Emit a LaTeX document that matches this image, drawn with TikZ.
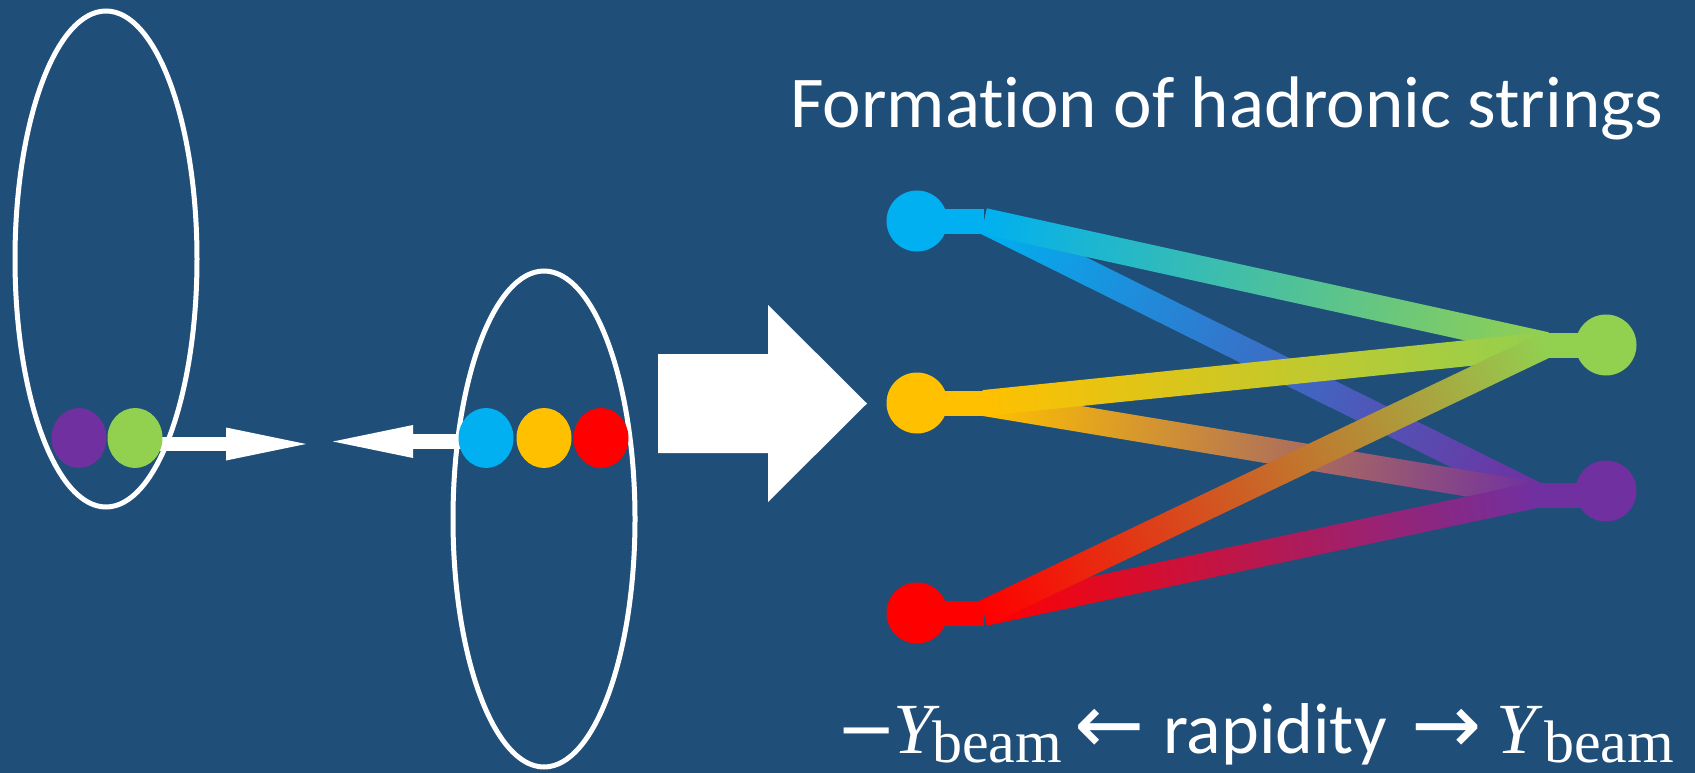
\documentclass[tikz,border=0pt]{standalone}
\usepackage{fontspec}
\setmainfont{Carlito}[Ligatures=NoCommon]
\newfontfamily\serifm{Liberation Serif}
\newfontfamily\arrowf{DejaVu Sans}
\usetikzlibrary{arrows.meta,shapes.geometric}
\definecolor{bgblue}{HTML}{1F4E79}
\definecolor{qblue}{HTML}{00B0F0}
\definecolor{qgreen}{HTML}{92D050}
\definecolor{qpurple}{HTML}{7030A0}
\definecolor{qorange}{HTML}{FFC000}
\definecolor{qred}{HTML}{FF0000}
\newdimen\qxa \newdimen\qya \newdimen\qxb \newdimen\qyb
\newcommand\qstring[4]{%
  \pgfextractx{\qxa}{\pgfpointanchor{#1}{center}}%
  \pgfextracty{\qya}{\pgfpointanchor{#1}{center}}%
  \pgfextractx{\qxb}{\pgfpointanchor{#2}{center}}%
  \pgfextracty{\qyb}{\pgfpointanchor{#2}{center}}%
  \pgfmathsetmacro\qang{atan2(\qyb-\qya,\qxb-\qxa)}%
  \pgfmathsetmacro\qlen{veclen(\qxb-\qxa,\qyb-\qya)}%
  \begin{scope}[transform canvas={shift={(#1)},rotate=\qang}]
    \shade[left color=#3,right color=#4] (0pt,-13pt) rectangle (\qlen pt,13pt);
  \end{scope}}
\begin{document}
\begin{tikzpicture}[x=1pt,y=-1pt,
  nucleus/.style={draw=white, line width=5pt, ellipse, minimum width=182pt, minimum height=496pt, inner sep=0pt},
  ldot/.style={ellipse, minimum width=55pt, minimum height=60pt, inner sep=0pt},
  qdot/.style={circle, minimum size=61pt, inner sep=0pt},
  stub/.style={line width=25pt},
  beamarrow/.style={draw=white, line width=14.5pt, -{Triangle[length=80pt,width=33pt,line width=0pt]}},
  lbl/.style={text=white, inner sep=0pt, anchor=base west},
]
\fill[bgblue] (0,0) rectangle (1695,773);
\useasboundingbox (0,0) rectangle (1695,773);

% nuclei
\node[nucleus] (nucA) at (106,259) {};
\node[nucleus] (nucB) at (544,519) {};

% beam arrows (under dots)
\coordinate (tipR) at (306,444);
\coordinate (tipL) at (333,441.5);
\node[ldot] (lg) at (135,438) {};
\node[ldot] (lb) at (486,438) {};
\draw[beamarrow] (lg.center |- tipR) -- (tipR);
\draw[beamarrow] (lb.center |- tipL) -- (tipL);

% dots on the nuclei
\node[ldot, fill=qpurple] (lp) at (79,438) {};
\node[ldot, fill=qgreen] at (lg) {};
\node[ldot, fill=qblue] at (lb) {};
\node[ldot, fill=qorange] (lo) at (544,438) {};
\node[ldot, fill=qred] (lr) at (601,438) {};

% big arrow
\fill[white] (658,354) -- (768,354) -- (768,305) -- (867,403.5) -- (768,502) -- (768,453) -- (658,453) -- cycle;

% string end points
\node[qdot] (bq) at (917,221) {};
\node[qdot] (oq) at (917,403) {};
\node[qdot] (rq) at (917,613) {};
\node[qdot] (gq) at (1606,345) {};
\node[qdot] (pq) at (1606,491) {};
\coordinate (bS) at (984,221);
\coordinate (oS) at (984,403);
\coordinate (rS) at (984,613);
\coordinate (gE) at (1546,345);
\coordinate (pE) at (1536,495);

% strings
\qstring{bS}{pE}{qblue}{qpurple}
\qstring{oS}{pE}{qorange}{qpurple}
\qstring{rS}{pE}{qred}{qpurple}
\qstring{bS}{gE}{qblue}{qgreen}
\qstring{oS}{gE}{qorange}{qgreen}
\qstring{rS}{gE}{qred}{qgreen}

% stubs
\draw[stub, qblue] (bq.center) -- (bS);
\draw[stub, qorange] (oq.center) -- (oS);
\draw[stub, qred] (rq.center) -- (rS);
\draw[stub, qgreen] (gE) -- (gq.center);
\draw[stub, qpurple] (pE) -- (pE -| pq.center);

% quark dots
\node[qdot, fill=qblue] at (bq) {};
\node[qdot, fill=qorange] at (oq) {};
\node[qdot, fill=qred] at (rq) {};
\node[qdot, fill=qgreen] at (gq) {};
\node[qdot, fill=qpurple] at (pq) {};

% title
\node[lbl, font=\fontsize{73}{80}\selectfont] (title) at (790,128) {Formation of hadronic strings};

% rapidity axis
\node[lbl, font=\arrowf\fontsize{72}{80}\selectfont] (minus) at (836,753) {−};
\node[lbl, font=\serifm\itshape\fontsize{72}{80}\selectfont] (yl) at (893,753) {Y};
\node[lbl, font=\serifm\fontsize{60}{66}\selectfont] (bl) at (932,762) {beam};
\node[text=white, inner sep=0pt, anchor=base, font=\arrowf\fontsize{84}{90}\selectfont] (la) at (1110,753) {←};
\node[lbl, font=\fontsize{72}{80}\selectfont] (rap) at (1163,753) {rapidity};
\node[text=white, inner sep=0pt, anchor=base, font=\arrowf\fontsize{84}{90}\selectfont] (ra) at (1447,753) {→};
\node[lbl, font=\serifm\itshape\fontsize{72}{80}\selectfont] (yr) at (1496,753) {Y};
\node[lbl, font=\serifm\fontsize{60}{66}\selectfont] (br) at (1544,762) {beam};
\end{tikzpicture}
\end{document}
